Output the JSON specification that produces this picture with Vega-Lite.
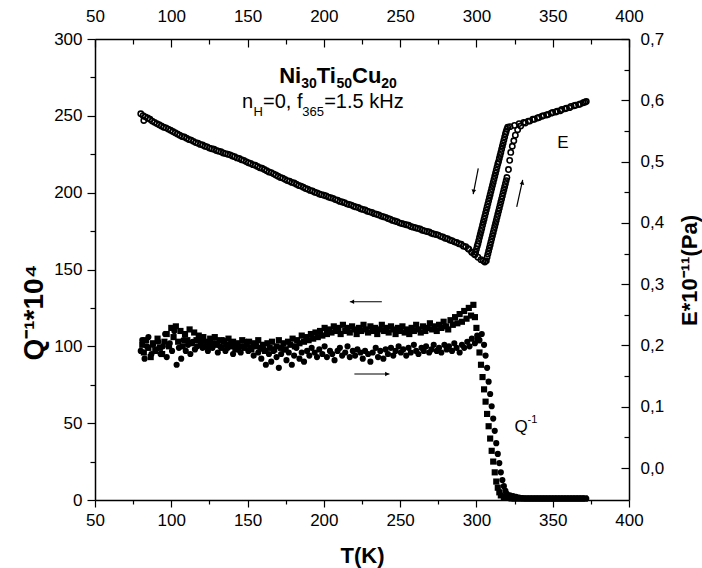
{
  "$schema": "https://vega.github.io/schema/vega-lite/v6.json",
  "width": 534,
  "height": 461,
  "autosize": {"type": "none"},
  "padding": {"left": 95, "top": 39, "right": 73, "bottom": 68},
  "background": "white",
  "config": {
    "view": {"stroke": null},
    "axis": {"domainColor": "black", "domainWidth": 1.5, "tickColor": "black", "tickWidth": 1.2, "labelColor": "black", "labelFont": "Liberation Sans", "labelFontSize": 17, "titleColor": "black", "titleFont": "Liberation Sans", "titleFontWeight": "bold", "titleFontSize": 22, "grid": false, "labelOverlap": false, "labelFlush": false, "labelBound": false},
    "text": {"font": "Liberation Sans", "color": "black"}
  },
  "datasets": {
    "Qdata": [
      {"s":"heating","T":80,"Q":97},{"s":"heating","T":81,"Q":104},{"s":"heating","T":82.5,"Q":92},{"s":"heating","T":84,"Q":100},{"s":"heating","T":85,"Q":106},{"s":"heating","T":87,"Q":95},{"s":"heating","T":88,"Q":101},{"s":"heating","T":90,"Q":98},{"s":"heating","T":91.5,"Q":103},{"s":"heating","T":93,"Q":95},{"s":"heating","T":94.5,"Q":100},{"s":"heating","T":96,"Q":108},{"s":"heating","T":97,"Q":93},{"s":"heating","T":99,"Q":102},{"s":"heating","T":100.5,"Q":97},{"s":"heating","T":102,"Q":110},{"s":"heating","T":103.5,"Q":88},{"s":"heating","T":105,"Q":99},{"s":"heating","T":106.5,"Q":92},{"s":"heating","T":108,"Q":104},{"s":"heating","T":109.5,"Q":97},{"s":"heating","T":111,"Q":101},{"s":"heating","T":112.5,"Q":95},{"s":"heating","T":114,"Q":103},{"s":"heating","T":115.5,"Q":98},{"s":"heating","T":117,"Q":100},{"s":"heating","T":119,"Q":104},{"s":"heating","T":120.5,"Q":99},{"s":"heating","T":122,"Q":101},{"s":"heating","T":124,"Q":97},{"s":"heating","T":125.5,"Q":103},{"s":"heating","T":127,"Q":99},{"s":"heating","T":129,"Q":102},{"s":"heating","T":130.5,"Q":96},{"s":"heating","T":132,"Q":100},{"s":"heating","T":134,"Q":104},{"s":"heating","T":135.5,"Q":97},{"s":"heating","T":137,"Q":99},{"s":"heating","T":139,"Q":102},{"s":"heating","T":140.5,"Q":95},{"s":"heating","T":142,"Q":101},{"s":"heating","T":144,"Q":98},{"s":"heating","T":145.5,"Q":96},{"s":"heating","T":147,"Q":100},{"s":"heating","T":149,"Q":103},{"s":"heating","T":150.5,"Q":97},{"s":"heating","T":152,"Q":99},{"s":"heating","T":154,"Q":94},{"s":"heating","T":155.5,"Q":101},{"s":"heating","T":157,"Q":96},{"s":"heating","T":159,"Q":92},{"s":"heating","T":160.5,"Q":98},{"s":"heating","T":162,"Q":88},{"s":"heating","T":164,"Q":95},{"s":"heating","T":165.5,"Q":90},{"s":"heating","T":167,"Q":97},{"s":"heating","T":169,"Q":93},{"s":"heating","T":170.5,"Q":86},{"s":"heating","T":172,"Q":95},{"s":"heating","T":174,"Q":98},{"s":"heating","T":175.5,"Q":91},{"s":"heating","T":177,"Q":96},{"s":"heating","T":179,"Q":88},{"s":"heating","T":180.5,"Q":94},{"s":"heating","T":182,"Q":99},{"s":"heating","T":184,"Q":92},{"s":"heating","T":185.5,"Q":96},{"s":"heating","T":187,"Q":90},{"s":"heating","T":189,"Q":97},{"s":"heating","T":190.5,"Q":94},{"s":"heating","T":192,"Q":99},{"s":"heating","T":194,"Q":96},{"s":"heating","T":195.5,"Q":93},{"s":"heating","T":197,"Q":98},{"s":"heating","T":199,"Q":95},{"s":"heating","T":200.5,"Q":100},{"s":"heating","T":202,"Q":93},{"s":"heating","T":204,"Q":97},{"s":"heating","T":205.5,"Q":95},{"s":"heating","T":207,"Q":91},{"s":"heating","T":209,"Q":97},{"s":"heating","T":210.5,"Q":99},{"s":"heating","T":212,"Q":94},{"s":"heating","T":214,"Q":96},{"s":"heating","T":215.5,"Q":100},{"s":"heating","T":217,"Q":93},{"s":"heating","T":219,"Q":97},{"s":"heating","T":220.5,"Q":94},{"s":"heating","T":222,"Q":98},{"s":"heating","T":224,"Q":96},{"s":"heating","T":225.5,"Q":92},{"s":"heating","T":227,"Q":97},{"s":"heating","T":229,"Q":95},{"s":"heating","T":230.5,"Q":90},{"s":"heating","T":232,"Q":96},{"s":"heating","T":234,"Q":99},{"s":"heating","T":235.5,"Q":93},{"s":"heating","T":237,"Q":97},{"s":"heating","T":239,"Q":92},{"s":"heating","T":240.5,"Q":98},{"s":"heating","T":242,"Q":95},{"s":"heating","T":244,"Q":99},{"s":"heating","T":245.5,"Q":94},{"s":"heating","T":247,"Q":97},{"s":"heating","T":249,"Q":100},{"s":"heating","T":250.5,"Q":96},{"s":"heating","T":252,"Q":98},{"s":"heating","T":254,"Q":94},{"s":"heating","T":255.5,"Q":99},{"s":"heating","T":257,"Q":96},{"s":"heating","T":259,"Q":101},{"s":"heating","T":260.5,"Q":97},{"s":"heating","T":262,"Q":95},{"s":"heating","T":264,"Q":99},{"s":"heating","T":265.5,"Q":97},{"s":"heating","T":267,"Q":100},{"s":"heating","T":269,"Q":96},{"s":"heating","T":270.5,"Q":98},{"s":"heating","T":272,"Q":101},{"s":"heating","T":274,"Q":97},{"s":"heating","T":275.5,"Q":99},{"s":"heating","T":277,"Q":96},{"s":"heating","T":279,"Q":101},{"s":"heating","T":280.5,"Q":98},{"s":"heating","T":282,"Q":100},{"s":"heating","T":284,"Q":97},{"s":"heating","T":285.5,"Q":102},{"s":"heating","T":287,"Q":99},{"s":"heating","T":289,"Q":96},{"s":"heating","T":290.5,"Q":101},{"s":"heating","T":292,"Q":99},{"s":"heating","T":294,"Q":103},{"s":"heating","T":295.5,"Q":100},{"s":"heating","T":297,"Q":105},{"s":"heating","T":299,"Q":102},{"s":"heating","T":300.5,"Q":107},{"s":"heating","T":302,"Q":104},{"s":"heating","T":303.5,"Q":108},{"s":"heating","T":305,"Q":101},{"s":"heating","T":306,"Q":94},{"s":"heating","T":307,"Q":86},{"s":"heating","T":308,"Q":77},{"s":"heating","T":309,"Q":69},{"s":"heating","T":310,"Q":61},{"s":"heating","T":311,"Q":53},{"s":"heating","T":312,"Q":45},{"s":"heating","T":313,"Q":37},{"s":"heating","T":314,"Q":30},{"s":"heating","T":315,"Q":24},{"s":"heating","T":316,"Q":18},{"s":"heating","T":317,"Q":13},{"s":"heating","T":318,"Q":9},{"s":"heating","T":319,"Q":6},{"s":"heating","T":320,"Q":4},{"s":"heating","T":322,"Q":3},{"s":"heating","T":324,"Q":2.5},{"s":"heating","T":326,"Q":2},{"s":"heating","T":328,"Q":1.5},{"s":"heating","T":330,"Q":1.2},{"s":"heating","T":332,"Q":1},{"s":"heating","T":334,"Q":1},{"s":"heating","T":336,"Q":1},{"s":"heating","T":338,"Q":1},{"s":"heating","T":340,"Q":1},{"s":"heating","T":342,"Q":1},{"s":"heating","T":344,"Q":1},{"s":"heating","T":346,"Q":1},{"s":"heating","T":348,"Q":1},{"s":"heating","T":350,"Q":1},{"s":"heating","T":352,"Q":1},{"s":"heating","T":354,"Q":1},{"s":"heating","T":356,"Q":1},{"s":"heating","T":358,"Q":1},{"s":"heating","T":360,"Q":1},{"s":"heating","T":362,"Q":1},{"s":"heating","T":364,"Q":1},{"s":"heating","T":366,"Q":1},{"s":"heating","T":368,"Q":1},{"s":"heating","T":370,"Q":1},{"s":"heating","T":372,"Q":1},
      {"s":"cooling","T":81,"Q":101},{"s":"cooling","T":82,"Q":96},{"s":"cooling","T":83.5,"Q":104},{"s":"cooling","T":85,"Q":99},{"s":"cooling","T":86.5,"Q":93},{"s":"cooling","T":88,"Q":102},{"s":"cooling","T":89.5,"Q":97},{"s":"cooling","T":91,"Q":105},{"s":"cooling","T":92.5,"Q":99},{"s":"cooling","T":94,"Q":95},{"s":"cooling","T":95.5,"Q":103},{"s":"cooling","T":97,"Q":108},{"s":"cooling","T":98.5,"Q":100},{"s":"cooling","T":100,"Q":112},{"s":"cooling","T":101.5,"Q":106},{"s":"cooling","T":103,"Q":113},{"s":"cooling","T":104.5,"Q":103},{"s":"cooling","T":106,"Q":110},{"s":"cooling","T":107.5,"Q":100},{"s":"cooling","T":109,"Q":108},{"s":"cooling","T":110.5,"Q":104},{"s":"cooling","T":112,"Q":111},{"s":"cooling","T":113.5,"Q":102},{"s":"cooling","T":115,"Q":109},{"s":"cooling","T":116.5,"Q":104},{"s":"cooling","T":118,"Q":107},{"s":"cooling","T":119.5,"Q":101},{"s":"cooling","T":121,"Q":106},{"s":"cooling","T":122.5,"Q":103},{"s":"cooling","T":124,"Q":100},{"s":"cooling","T":125.5,"Q":105},{"s":"cooling","T":127,"Q":102},{"s":"cooling","T":128.5,"Q":106},{"s":"cooling","T":130,"Q":101},{"s":"cooling","T":131.5,"Q":104},{"s":"cooling","T":133,"Q":99},{"s":"cooling","T":134.5,"Q":103},{"s":"cooling","T":136,"Q":101},{"s":"cooling","T":137.5,"Q":105},{"s":"cooling","T":139,"Q":100},{"s":"cooling","T":140.5,"Q":103},{"s":"cooling","T":142,"Q":98},{"s":"cooling","T":143.5,"Q":102},{"s":"cooling","T":145,"Q":100},{"s":"cooling","T":146.5,"Q":104},{"s":"cooling","T":148,"Q":99},{"s":"cooling","T":149.5,"Q":101},{"s":"cooling","T":151,"Q":103},{"s":"cooling","T":152.5,"Q":98},{"s":"cooling","T":154,"Q":102},{"s":"cooling","T":155.5,"Q":100},{"s":"cooling","T":157,"Q":104},{"s":"cooling","T":158.5,"Q":99},{"s":"cooling","T":160,"Q":101},{"s":"cooling","T":161.5,"Q":97},{"s":"cooling","T":163,"Q":102},{"s":"cooling","T":164.5,"Q":99},{"s":"cooling","T":166,"Q":103},{"s":"cooling","T":167.5,"Q":98},{"s":"cooling","T":169,"Q":100},{"s":"cooling","T":170.5,"Q":104},{"s":"cooling","T":172,"Q":99},{"s":"cooling","T":173.5,"Q":102},{"s":"cooling","T":175,"Q":98},{"s":"cooling","T":176.5,"Q":103},{"s":"cooling","T":178,"Q":101},{"s":"cooling","T":179.5,"Q":105},{"s":"cooling","T":181,"Q":100},{"s":"cooling","T":182.5,"Q":104},{"s":"cooling","T":184,"Q":102},{"s":"cooling","T":185.5,"Q":107},{"s":"cooling","T":187,"Q":103},{"s":"cooling","T":188.5,"Q":106},{"s":"cooling","T":190,"Q":104},{"s":"cooling","T":191.5,"Q":108},{"s":"cooling","T":193,"Q":105},{"s":"cooling","T":194.5,"Q":109},{"s":"cooling","T":196,"Q":106},{"s":"cooling","T":197.5,"Q":110},{"s":"cooling","T":199,"Q":107},{"s":"cooling","T":200.5,"Q":112},{"s":"cooling","T":202,"Q":108},{"s":"cooling","T":203.5,"Q":111},{"s":"cooling","T":205,"Q":109},{"s":"cooling","T":206.5,"Q":113},{"s":"cooling","T":208,"Q":110},{"s":"cooling","T":209.5,"Q":112},{"s":"cooling","T":211,"Q":108},{"s":"cooling","T":212.5,"Q":114},{"s":"cooling","T":214,"Q":110},{"s":"cooling","T":215.5,"Q":112},{"s":"cooling","T":217,"Q":109},{"s":"cooling","T":218.5,"Q":113},{"s":"cooling","T":220,"Q":111},{"s":"cooling","T":221.5,"Q":108},{"s":"cooling","T":223,"Q":112},{"s":"cooling","T":224.5,"Q":110},{"s":"cooling","T":226,"Q":114},{"s":"cooling","T":227.5,"Q":111},{"s":"cooling","T":229,"Q":109},{"s":"cooling","T":230.5,"Q":113},{"s":"cooling","T":232,"Q":110},{"s":"cooling","T":233.5,"Q":112},{"s":"cooling","T":235,"Q":108},{"s":"cooling","T":236.5,"Q":111},{"s":"cooling","T":238,"Q":114},{"s":"cooling","T":239.5,"Q":110},{"s":"cooling","T":241,"Q":112},{"s":"cooling","T":242.5,"Q":109},{"s":"cooling","T":244,"Q":113},{"s":"cooling","T":245.5,"Q":111},{"s":"cooling","T":247,"Q":108},{"s":"cooling","T":248.5,"Q":112},{"s":"cooling","T":250,"Q":110},{"s":"cooling","T":251.5,"Q":113},{"s":"cooling","T":253,"Q":109},{"s":"cooling","T":254.5,"Q":111},{"s":"cooling","T":256,"Q":108},{"s":"cooling","T":257.5,"Q":112},{"s":"cooling","T":259,"Q":110},{"s":"cooling","T":260.5,"Q":114},{"s":"cooling","T":262,"Q":111},{"s":"cooling","T":263.5,"Q":109},{"s":"cooling","T":265,"Q":113},{"s":"cooling","T":266.5,"Q":110},{"s":"cooling","T":268,"Q":112},{"s":"cooling","T":269.5,"Q":115},{"s":"cooling","T":271,"Q":111},{"s":"cooling","T":272.5,"Q":113},{"s":"cooling","T":274,"Q":110},{"s":"cooling","T":275.5,"Q":114},{"s":"cooling","T":277,"Q":112},{"s":"cooling","T":278.5,"Q":116},{"s":"cooling","T":280,"Q":113},{"s":"cooling","T":281.5,"Q":111},{"s":"cooling","T":283,"Q":117},{"s":"cooling","T":284.5,"Q":114},{"s":"cooling","T":286,"Q":119},{"s":"cooling","T":287.5,"Q":115},{"s":"cooling","T":289,"Q":121},{"s":"cooling","T":290.5,"Q":116},{"s":"cooling","T":292,"Q":123},{"s":"cooling","T":293.5,"Q":118},{"s":"cooling","T":295,"Q":125},{"s":"cooling","T":296.5,"Q":120},{"s":"cooling","T":298,"Q":127},{"s":"cooling","T":299,"Q":119},{"s":"cooling","T":300,"Q":112},{"s":"cooling","T":301,"Q":104},{"s":"cooling","T":302,"Q":96},{"s":"cooling","T":303,"Q":88},{"s":"cooling","T":304,"Q":80},{"s":"cooling","T":305,"Q":72},{"s":"cooling","T":306,"Q":64},{"s":"cooling","T":307,"Q":56},{"s":"cooling","T":308,"Q":48},{"s":"cooling","T":309,"Q":40},{"s":"cooling","T":310,"Q":32},{"s":"cooling","T":311,"Q":25},{"s":"cooling","T":312,"Q":18},{"s":"cooling","T":313,"Q":12},{"s":"cooling","T":314,"Q":8},{"s":"cooling","T":315,"Q":5},{"s":"cooling","T":316,"Q":3},{"s":"cooling","T":318,"Q":2},{"s":"cooling","T":320,"Q":1.5},{"s":"cooling","T":323,"Q":1},{"s":"cooling","T":325,"Q":1},{"s":"cooling","T":327,"Q":1},{"s":"cooling","T":329,"Q":1},{"s":"cooling","T":331,"Q":1},{"s":"cooling","T":333,"Q":1},{"s":"cooling","T":335,"Q":1},{"s":"cooling","T":337,"Q":1},{"s":"cooling","T":339,"Q":1},{"s":"cooling","T":341,"Q":1},{"s":"cooling","T":343,"Q":1},{"s":"cooling","T":345,"Q":1},{"s":"cooling","T":347,"Q":1},{"s":"cooling","T":349,"Q":1},{"s":"cooling","T":351,"Q":1},{"s":"cooling","T":353,"Q":1},{"s":"cooling","T":355,"Q":1},{"s":"cooling","T":357,"Q":1},{"s":"cooling","T":359,"Q":1},{"s":"cooling","T":361,"Q":1},{"s":"cooling","T":363,"Q":1},{"s":"cooling","T":365,"Q":1},{"s":"cooling","T":367,"Q":1},{"s":"cooling","T":369,"Q":1},{"s":"cooling","T":371,"Q":1}
    ],
    "Edata": [
      {"b":"c","T":80,"E":0.578},{"b":"c","T":83,"E":0.573},{"b":"c","T":86,"E":0.569},{"b":"c","T":89,"E":0.564},{"b":"c","T":92,"E":0.560},{"b":"c","T":95,"E":0.556},{"b":"c","T":98,"E":0.553},{"b":"c","T":101,"E":0.549},{"b":"c","T":104,"E":0.545},{"b":"c","T":107,"E":0.541},{"b":"c","T":110,"E":0.538},{"b":"c","T":113,"E":0.535},{"b":"c","T":116,"E":0.531},{"b":"c","T":119,"E":0.528},{"b":"c","T":122,"E":0.525},{"b":"c","T":125,"E":0.522},{"b":"c","T":128,"E":0.520},{"b":"c","T":131,"E":0.517},{"b":"c","T":134,"E":0.514},{"b":"c","T":137,"E":0.512},{"b":"c","T":140,"E":0.509},{"b":"c","T":143,"E":0.506},{"b":"c","T":146,"E":0.503},{"b":"c","T":149,"E":0.500},{"b":"c","T":152,"E":0.497},{"b":"c","T":155,"E":0.494},{"b":"c","T":158,"E":0.490},{"b":"c","T":161,"E":0.487},{"b":"c","T":164,"E":0.483},{"b":"c","T":167,"E":0.480},{"b":"c","T":170,"E":0.476},{"b":"c","T":173,"E":0.473},{"b":"c","T":176,"E":0.469},{"b":"c","T":179,"E":0.466},{"b":"c","T":182,"E":0.463},{"b":"c","T":185,"E":0.460},{"b":"c","T":188,"E":0.456},{"b":"c","T":191,"E":0.453},{"b":"c","T":194,"E":0.450},{"b":"c","T":197,"E":0.447},{"b":"c","T":200,"E":0.445},{"b":"c","T":203,"E":0.442},{"b":"c","T":206,"E":0.440},{"b":"c","T":209,"E":0.437},{"b":"c","T":212,"E":0.434},{"b":"c","T":215,"E":0.431},{"b":"c","T":218,"E":0.429},{"b":"c","T":221,"E":0.426},{"b":"c","T":224,"E":0.423},{"b":"c","T":227,"E":0.421},{"b":"c","T":230,"E":0.418},{"b":"c","T":233,"E":0.415},{"b":"c","T":236,"E":0.413},{"b":"c","T":239,"E":0.410},{"b":"c","T":242,"E":0.407},{"b":"c","T":245,"E":0.404},{"b":"c","T":248,"E":0.402},{"b":"c","T":251,"E":0.399},{"b":"c","T":254,"E":0.397},{"b":"c","T":257,"E":0.394},{"b":"c","T":260,"E":0.392},{"b":"c","T":263,"E":0.390},{"b":"c","T":266,"E":0.387},{"b":"c","T":269,"E":0.385},{"b":"c","T":272,"E":0.382},{"b":"c","T":275,"E":0.380},{"b":"c","T":278,"E":0.377},{"b":"c","T":281,"E":0.374},{"b":"c","T":284,"E":0.371},{"b":"c","T":287,"E":0.368},{"b":"c","T":290,"E":0.365},{"b":"c","T":293,"E":0.361},{"b":"c","T":295,"E":0.357},{"b":"c","T":297,"E":0.352},{"b":"c","T":298.5,"E":0.349},{"b":"c","T":299.5,"E":0.352},{"b":"c","T":300,"E":0.357},{"b":"c","T":300.5,"E":0.362},{"b":"c","T":301,"E":0.366},{"b":"c","T":301.5,"E":0.371},{"b":"c","T":302,"E":0.376},{"b":"c","T":302.5,"E":0.381},{"b":"c","T":303,"E":0.386},{"b":"c","T":303.5,"E":0.391},{"b":"c","T":304,"E":0.396},{"b":"c","T":304.5,"E":0.401},{"b":"c","T":305,"E":0.406},{"b":"c","T":305.5,"E":0.411},{"b":"c","T":306,"E":0.416},{"b":"c","T":306.5,"E":0.421},{"b":"c","T":307,"E":0.426},{"b":"c","T":307.5,"E":0.431},{"b":"c","T":308,"E":0.436},{"b":"c","T":308.5,"E":0.441},{"b":"c","T":309,"E":0.446},{"b":"c","T":309.5,"E":0.451},{"b":"c","T":310,"E":0.456},{"b":"c","T":310.5,"E":0.461},{"b":"c","T":311,"E":0.466},{"b":"c","T":311.5,"E":0.471},{"b":"c","T":312,"E":0.476},{"b":"c","T":312.5,"E":0.481},{"b":"c","T":313,"E":0.486},{"b":"c","T":313.5,"E":0.491},{"b":"c","T":314,"E":0.496},{"b":"c","T":314.5,"E":0.500},{"b":"c","T":315,"E":0.505},{"b":"c","T":315.5,"E":0.510},{"b":"c","T":316,"E":0.515},{"b":"c","T":316.5,"E":0.520},{"b":"c","T":317,"E":0.525},{"b":"c","T":317.5,"E":0.530},{"b":"c","T":318,"E":0.535},{"b":"c","T":318.5,"E":0.540},{"b":"c","T":319,"E":0.545},{"b":"c","T":319.5,"E":0.549},{"b":"c","T":320,"E":0.553},{"b":"c","T":320.5,"E":0.556},{"b":"c","T":322,"E":0.557},{"b":"c","T":325,"E":0.559},{"b":"c","T":328,"E":0.562},{"b":"c","T":331,"E":0.564},{"b":"c","T":334,"E":0.566},{"b":"c","T":337,"E":0.569},{"b":"c","T":340,"E":0.571},{"b":"c","T":343,"E":0.574},{"b":"c","T":346,"E":0.576},{"b":"c","T":349,"E":0.579},{"b":"c","T":352,"E":0.581},{"b":"c","T":355,"E":0.583},{"b":"c","T":358,"E":0.586},{"b":"c","T":361,"E":0.588},{"b":"c","T":364,"E":0.591},{"b":"c","T":367,"E":0.593},{"b":"c","T":370,"E":0.596},{"b":"c","T":372,"E":0.598},
      {"b":"h","T":81.5,"E":0.575},{"b":"h","T":82,"E":0.567},{"b":"h","T":84.5,"E":0.571},{"b":"h","T":87.5,"E":0.566},{"b":"h","T":90.5,"E":0.562},{"b":"h","T":93.5,"E":0.558},{"b":"h","T":96.5,"E":0.555},{"b":"h","T":99.5,"E":0.551},{"b":"h","T":102.5,"E":0.547},{"b":"h","T":105.5,"E":0.543},{"b":"h","T":108.5,"E":0.540},{"b":"h","T":111.5,"E":0.536},{"b":"h","T":114.5,"E":0.533},{"b":"h","T":117.5,"E":0.530},{"b":"h","T":120.5,"E":0.527},{"b":"h","T":123.5,"E":0.524},{"b":"h","T":126.5,"E":0.521},{"b":"h","T":129.5,"E":0.518},{"b":"h","T":132.5,"E":0.516},{"b":"h","T":135.5,"E":0.513},{"b":"h","T":138.5,"E":0.511},{"b":"h","T":141.5,"E":0.508},{"b":"h","T":144.5,"E":0.505},{"b":"h","T":147.5,"E":0.502},{"b":"h","T":150.5,"E":0.498},{"b":"h","T":153.5,"E":0.495},{"b":"h","T":156.5,"E":0.492},{"b":"h","T":159.5,"E":0.489},{"b":"h","T":162.5,"E":0.485},{"b":"h","T":165.5,"E":0.482},{"b":"h","T":168.5,"E":0.478},{"b":"h","T":171.5,"E":0.474},{"b":"h","T":174.5,"E":0.471},{"b":"h","T":177.5,"E":0.468},{"b":"h","T":180.5,"E":0.465},{"b":"h","T":183.5,"E":0.461},{"b":"h","T":186.5,"E":0.458},{"b":"h","T":189.5,"E":0.455},{"b":"h","T":192.5,"E":0.452},{"b":"h","T":195.5,"E":0.449},{"b":"h","T":198.5,"E":0.446},{"b":"h","T":201.5,"E":0.444},{"b":"h","T":204.5,"E":0.441},{"b":"h","T":207.5,"E":0.438},{"b":"h","T":210.5,"E":0.435},{"b":"h","T":213.5,"E":0.433},{"b":"h","T":216.5,"E":0.430},{"b":"h","T":219.5,"E":0.427},{"b":"h","T":222.5,"E":0.425},{"b":"h","T":225.5,"E":0.422},{"b":"h","T":228.5,"E":0.419},{"b":"h","T":231.5,"E":0.417},{"b":"h","T":234.5,"E":0.414},{"b":"h","T":237.5,"E":0.411},{"b":"h","T":240.5,"E":0.409},{"b":"h","T":243.5,"E":0.406},{"b":"h","T":246.5,"E":0.403},{"b":"h","T":249.5,"E":0.400},{"b":"h","T":252.5,"E":0.398},{"b":"h","T":255.5,"E":0.396},{"b":"h","T":258.5,"E":0.393},{"b":"h","T":261.5,"E":0.391},{"b":"h","T":264.5,"E":0.388},{"b":"h","T":267.5,"E":0.386},{"b":"h","T":270.5,"E":0.383},{"b":"h","T":273.5,"E":0.381},{"b":"h","T":276.5,"E":0.378},{"b":"h","T":279.5,"E":0.375},{"b":"h","T":282.5,"E":0.372},{"b":"h","T":285.5,"E":0.369},{"b":"h","T":288.5,"E":0.366},{"b":"h","T":291.5,"E":0.362},{"b":"h","T":294.5,"E":0.358},{"b":"h","T":297,"E":0.352},{"b":"h","T":299,"E":0.348},{"b":"h","T":301,"E":0.344},{"b":"h","T":303,"E":0.340},{"b":"h","T":304.5,"E":0.338},{"b":"h","T":305.5,"E":0.336},{"b":"h","T":306.5,"E":0.338},{"b":"h","T":307,"E":0.344},{"b":"h","T":307.5,"E":0.349},{"b":"h","T":308,"E":0.354},{"b":"h","T":308.5,"E":0.359},{"b":"h","T":309,"E":0.364},{"b":"h","T":309.5,"E":0.369},{"b":"h","T":310,"E":0.374},{"b":"h","T":310.5,"E":0.379},{"b":"h","T":311,"E":0.384},{"b":"h","T":311.5,"E":0.389},{"b":"h","T":312,"E":0.394},{"b":"h","T":312.5,"E":0.399},{"b":"h","T":313,"E":0.404},{"b":"h","T":313.5,"E":0.409},{"b":"h","T":314,"E":0.414},{"b":"h","T":314.5,"E":0.419},{"b":"h","T":315,"E":0.424},{"b":"h","T":315.5,"E":0.429},{"b":"h","T":316,"E":0.434},{"b":"h","T":316.5,"E":0.439},{"b":"h","T":317,"E":0.444},{"b":"h","T":317.5,"E":0.449},{"b":"h","T":318,"E":0.454},{"b":"h","T":318.5,"E":0.459},{"b":"h","T":319,"E":0.464},{"b":"h","T":319.5,"E":0.469},{"b":"h","T":320,"E":0.474},{"b":"h","T":321,"E":0.487},{"b":"h","T":321.8,"E":0.502},{"b":"h","T":322.5,"E":0.515},{"b":"h","T":323.5,"E":0.525},{"b":"h","T":324.5,"E":0.534},{"b":"h","T":325.5,"E":0.543},{"b":"h","T":327,"E":0.552},{"b":"h","T":329,"E":0.558},{"b":"h","T":332,"E":0.563},{"b":"h","T":335,"E":0.566},{"b":"h","T":338,"E":0.569},{"b":"h","T":341,"E":0.572},{"b":"h","T":344,"E":0.575},{"b":"h","T":347,"E":0.577},{"b":"h","T":350,"E":0.580},{"b":"h","T":353,"E":0.582},{"b":"h","T":356,"E":0.585},{"b":"h","T":359,"E":0.587},{"b":"h","T":362,"E":0.590},{"b":"h","T":365,"E":0.592},{"b":"h","T":368,"E":0.594},{"b":"h","T":371,"E":0.597}
    ]
  },
  "layer": [
    {
      "layer": [
        {
          "data": {"name": "Qdata"},
          "mark": {"type": "point", "filled": true, "color": "black", "size": 38, "opacity": 1},
          "encoding": {
            "x": {"field": "T", "type": "quantitative", "scale": {"domain": [50, 400], "nice": false, "zero": false},
              "axis": {"orient": "bottom", "values": [50,100,150,200,250,300,350,400], "tickSize": 7, "labelPadding": 5, "title": "T(K)", "titleX": 267, "titleY": 62, "titleAlign": "center", "titleBaseline": "alphabetic"}},
            "y": {"field": "Q", "type": "quantitative", "scale": {"domain": [0, 300], "nice": false, "zero": false},
              "axis": {"orient": "left", "values": [0,50,100,150,200,250,300], "tickSize": 8, "labelPadding": 5, "title": "Q⁻¹*10⁴", "titleFontSize": 28, "titleAngle": 270, "titleX": -53, "titleY": 273, "titleAlign": "center", "titleBaseline": "alphabetic"}},
            "shape": {"field": "s", "type": "nominal", "scale": {"domain": ["heating", "cooling"], "range": ["circle", "square"]}, "legend": null}
          }
        },
        {
          "data": {"values": [{"T": 217, "Q": 129, "T2": 238}, {"T": 220, "Q": 82, "T2": 243}]},
          "mark": {"type": "rule", "color": "black", "strokeWidth": 1.2},
          "encoding": {
            "x": {"field": "T", "type": "quantitative", "axis": {"orient": "bottom", "values": [75,125,175,225,275,325,375], "tickSize": 4, "labels": false, "domain": false, "title": null}},
            "x2": {"field": "T2"},
            "y": {"field": "Q", "type": "quantitative", "axis": {"orient": "left", "values": [25,75,125,175,225,275], "tickSize": 5, "labels": false, "domain": false, "title": null}}
          }
        },
        {
          "data": {"values": [{"T": 218.5, "Q": 129}]},
          "mark": {"type": "point", "shape": "triangle-left", "filled": true, "color": "black", "size": 22, "opacity": 1},
          "encoding": {"x": {"field": "T", "type": "quantitative", "axis": null}, "y": {"field": "Q", "type": "quantitative", "axis": null}}
        },
        {
          "data": {"values": [{"T": 241.5, "Q": 82}]},
          "mark": {"type": "point", "shape": "triangle-right", "filled": true, "color": "black", "size": 22, "opacity": 1},
          "encoding": {"x": {"field": "T", "type": "quantitative", "axis": null}, "y": {"field": "Q", "type": "quantitative", "axis": null}}
        },
        {
          "data": {"values": [{"t": "Ni", "T": 170.73, "Q": 271.2}, {"t": "Ti", "T": 195.38, "Q": 271.2}, {"t": "Cu", "T": 218.45, "Q": 271.2}]},
          "mark": {"type": "text", "font": "Liberation Sans", "fontWeight": "bold", "fontSize": 22, "align": "left", "baseline": "alphabetic", "color": "black"},
          "encoding": {"x": {"field": "T", "type": "quantitative", "axis": null}, "y": {"field": "Q", "type": "quantitative", "axis": null}, "text": {"field": "t"}}
        },
        {
          "data": {"values": [{"t": "30", "T": 185.15, "Q": 268}, {"t": "50", "T": 208.22, "Q": 268}, {"t": "20", "T": 237.65, "Q": 268}]},
          "mark": {"type": "text", "font": "Liberation Sans", "fontWeight": "bold", "fontSize": 14, "align": "left", "baseline": "alphabetic", "color": "black"},
          "encoding": {"x": {"field": "T", "type": "quantitative", "axis": null}, "y": {"field": "Q", "type": "quantitative", "axis": null}, "text": {"field": "t"}}
        },
        {
          "data": {"values": [{"t": "n", "T": 146.35, "Q": 254.9}, {"t": "=0, f", "T": 160.1, "Q": 254.9}, {"t": "=1.5 kHz", "T": 200.2, "Q": 254.9}]},
          "mark": {"type": "text", "font": "Liberation Sans", "fontSize": 20, "align": "left", "baseline": "alphabetic", "color": "black"},
          "encoding": {"x": {"field": "T", "type": "quantitative", "axis": null}, "y": {"field": "Q", "type": "quantitative", "axis": null}, "text": {"field": "t"}}
        },
        {
          "data": {"values": [{"t": "H", "T": 153.9, "Q": 250.2}, {"t": "365", "T": 185.9, "Q": 250.2}]},
          "mark": {"type": "text", "font": "Liberation Sans", "fontSize": 13, "align": "left", "baseline": "alphabetic", "color": "black"},
          "encoding": {"x": {"field": "T", "type": "quantitative", "axis": null}, "y": {"field": "Q", "type": "quantitative", "axis": null}, "text": {"field": "t"}}
        },
        {
          "data": {"values": [{"t": "Q", "T": 325, "Q": 44}]},
          "mark": {"type": "text", "font": "Liberation Sans", "fontSize": 17, "align": "left", "baseline": "alphabetic", "color": "black"},
          "encoding": {"x": {"field": "T", "type": "quantitative", "axis": null}, "y": {"field": "Q", "type": "quantitative", "axis": null}, "text": {"field": "t"}}
        },
        {
          "data": {"values": [{"t": "-1", "T": 333.5, "Q": 50}]},
          "mark": {"type": "text", "font": "Liberation Sans", "fontSize": 11, "align": "left", "baseline": "alphabetic", "color": "black"},
          "encoding": {"x": {"field": "T", "type": "quantitative", "axis": null}, "y": {"field": "Q", "type": "quantitative", "axis": null}, "text": {"field": "t"}}
        }
      ],
      "resolve": {"axis": {"x": "independent", "y": "independent"}}
    },
    {
      "layer": [
        {
          "data": {"name": "Edata"},
          "mark": {"type": "point", "shape": "circle", "filled": false, "color": "black", "strokeWidth": 1.6, "size": 28, "opacity": 1},
          "encoding": {
            "x": {"field": "T", "type": "quantitative", "scale": {"domain": [50, 400], "nice": false, "zero": false},
              "axis": {"orient": "top", "values": [50,100,150,200,250,300,350,400], "tickSize": -8, "labelPadding": 22, "title": null}},
            "y": {"field": "E", "type": "quantitative", "scale": {"domain": [-0.0522, 0.7], "nice": false, "zero": false},
              "axis": {"orient": "right", "values": [0,0.1,0.2,0.3,0.4,0.5,0.6,0.7], "labelExpr": "replace(format(datum.value, '.1f'), '.', ',')", "tickSize": -8, "labelPadding": 19, "title": "E*10⁻¹¹(Pa)", "titleAngle": 270, "titleX": 67, "titleY": 231, "titleAlign": "center", "titleBaseline": "alphabetic"}}
          }
        },
        {
          "data": {"values": [{"T": 301.2, "E": 0.489, "T2": 297.9, "E2": 0.447}, {"T": 326.4, "E": 0.426, "T2": 330.3, "E2": 0.470}]},
          "mark": {"type": "rule", "color": "black", "strokeWidth": 1.2},
          "encoding": {
            "x": {"field": "T", "type": "quantitative", "axis": {"orient": "top", "values": [75,125,175,225,275,325,375], "tickSize": -5, "labels": false, "domain": false, "title": null}},
            "x2": {"field": "T2"},
            "y": {"field": "E", "type": "quantitative", "axis": {"orient": "right", "values": [0.05,0.15,0.25,0.35,0.45,0.55,0.65], "tickSize": -5, "labels": false, "domain": false, "title": null}},
            "y2": {"field": "E2"}
          }
        },
        {
          "data": {"values": [{"T": 298.1, "E": 0.451}]},
          "mark": {"type": "point", "shape": "triangle-down", "angle": 10, "filled": true, "color": "black", "size": 22, "opacity": 1},
          "encoding": {"x": {"field": "T", "type": "quantitative", "axis": null}, "y": {"field": "E", "type": "quantitative", "axis": null}}
        },
        {
          "data": {"values": [{"T": 330.1, "E": 0.466}]},
          "mark": {"type": "point", "shape": "triangle-up", "angle": 12, "filled": true, "color": "black", "size": 22, "opacity": 1},
          "encoding": {"x": {"field": "T", "type": "quantitative", "axis": null}, "y": {"field": "E", "type": "quantitative", "axis": null}}
        },
        {
          "data": {"values": [{"t": "E", "T": 356.7, "E": 0.530}]},
          "mark": {"type": "text", "font": "Liberation Sans", "fontSize": 17, "align": "center", "baseline": "middle", "color": "black"},
          "encoding": {"x": {"field": "T", "type": "quantitative", "axis": null}, "y": {"field": "E", "type": "quantitative", "axis": null}, "text": {"field": "t"}}
        }
      ],
      "resolve": {"axis": {"x": "independent", "y": "independent"}}
    }
  ],
  "resolve": {"scale": {"y": "independent"}, "axis": {"x": "independent", "y": "independent"}}
}
